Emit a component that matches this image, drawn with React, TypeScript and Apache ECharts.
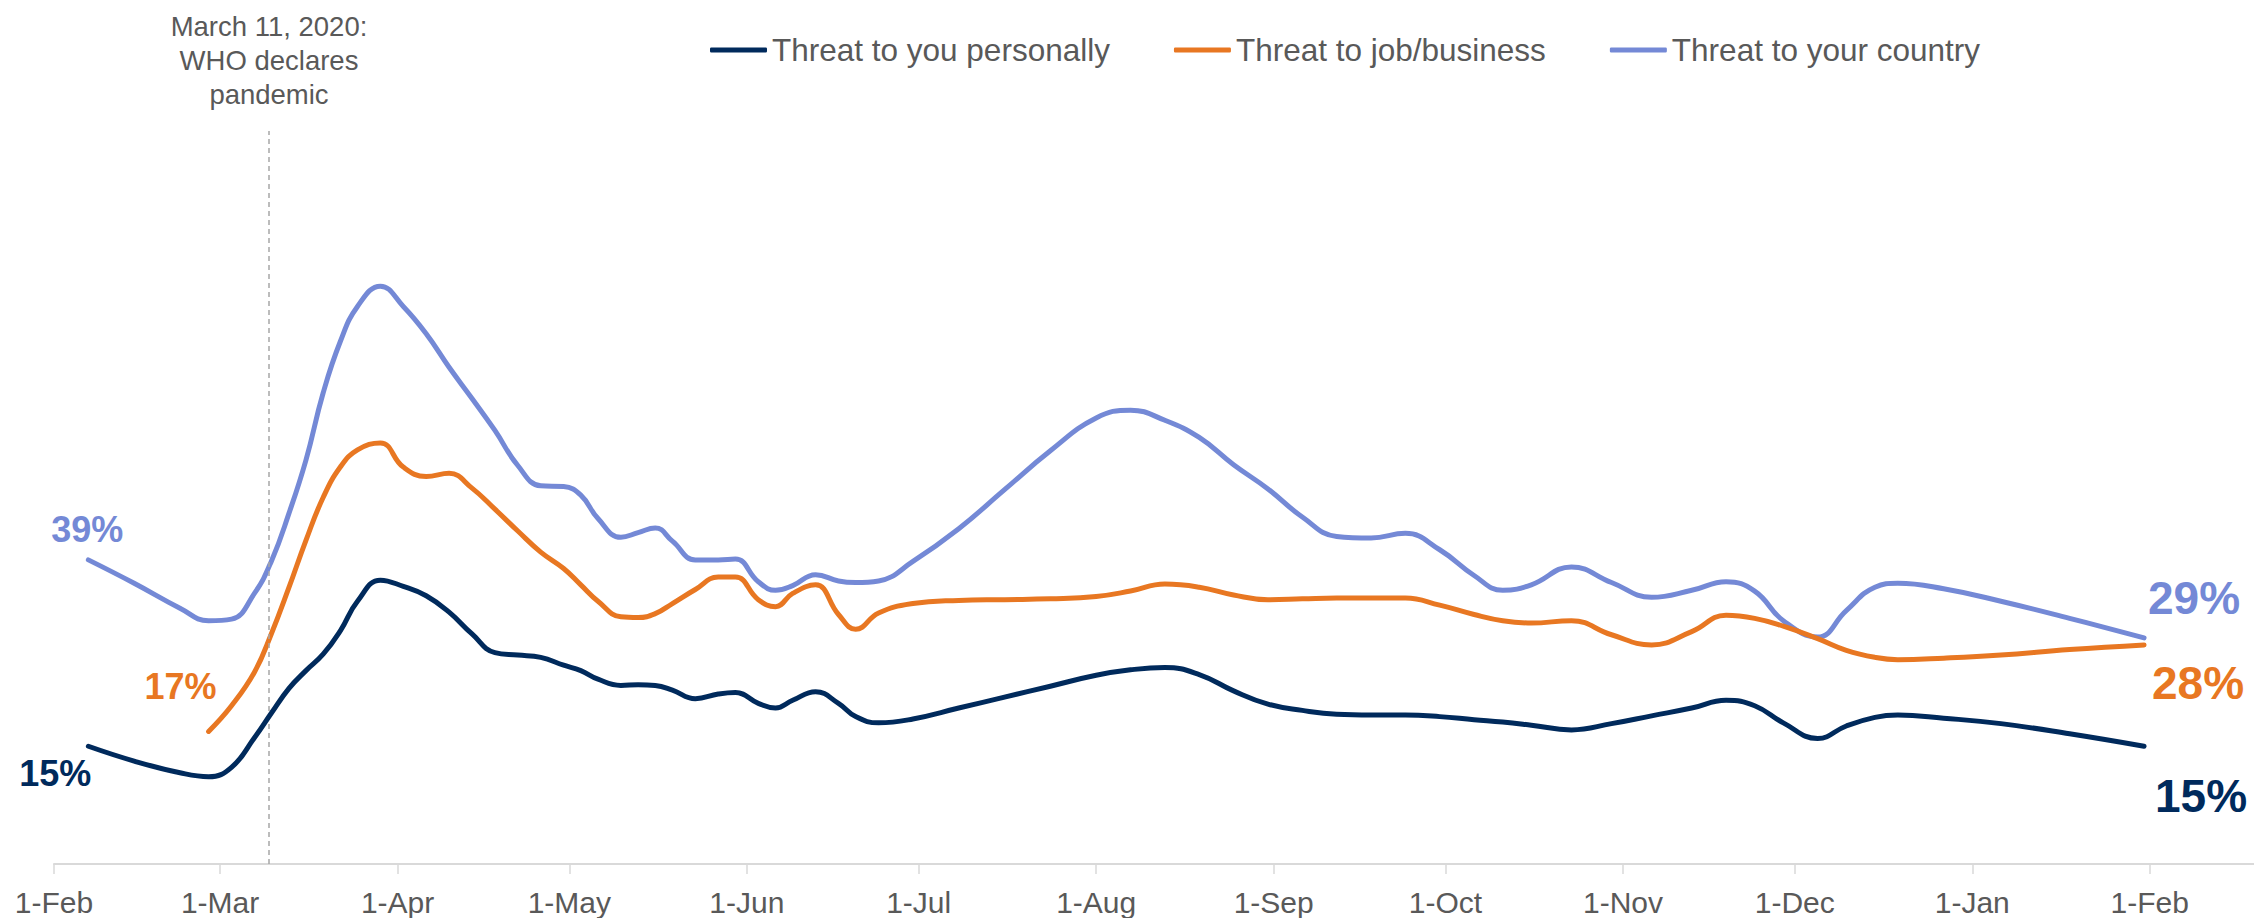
import React, { useEffect, useRef } from "react";
import * as echarts from "echarts";

// ---------- data ----------
const dates = [
  "2020-02-07", "2020-02-15", "2020-02-23", "2020-02-28",
  "2020-03-03", "2020-03-07", "2020-03-10", "2020-03-13", "2020-03-16", "2020-03-19", "2020-03-22", "2020-03-25", "2020-03-29",
  "2020-04-02", "2020-04-06", "2020-04-10", "2020-04-14", "2020-04-18", "2020-04-22", "2020-04-26", "2020-04-30",
  "2020-05-03", "2020-05-06", "2020-05-10", "2020-05-13", "2020-05-16", "2020-05-19", "2020-05-23", "2020-05-27", "2020-05-30",
  "2020-06-03", "2020-06-06", "2020-06-09", "2020-06-13", "2020-06-17", "2020-06-20", "2020-06-24", "2020-06-30",
  "2020-07-08", "2020-07-16", "2020-07-24",
  "2020-08-01", "2020-08-07", "2020-08-13", "2020-08-19", "2020-08-25", "2020-08-31",
  "2020-09-06", "2020-09-12", "2020-09-18", "2020-09-24", "2020-09-30",
  "2020-10-06", "2020-10-11", "2020-10-16", "2020-10-23", "2020-10-30",
  "2020-11-06", "2020-11-13", "2020-11-19", "2020-11-24", "2020-11-29",
  "2020-12-05", "2020-12-10", "2020-12-15", "2020-12-19", "2020-12-27",
  "2021-01-06", "2021-01-18", "2021-01-31",
];

const personal = [
  15.1, 13.2, 11.7, 11.2,
  12.4, 16.2, 19.4, 22.5, 24.8, 26.9, 29.9, 33.7, 36.4,
  35.6, 34.4, 32.3, 29.5, 27.1, 26.8, 26.5, 25.5,
  24.8, 23.7, 22.9, 23.0, 22.9, 22.3, 21.2, 21.8, 22.0,
  20.6, 20.0, 21.0, 22.1, 20.6, 18.9, 18.1, 18.6,
  20.0, 21.4, 22.8,
  24.2, 24.9, 25.2, 24.3, 22.2, 20.5,
  19.7, 19.2, 19.1, 19.1, 18.9,
  18.5, 18.2, 17.8, 17.2, 18.0,
  19.0, 20.0, 21.0, 20.3, 18.1,
  16.1, 17.7, 18.8, 19.1, 18.7,
  18.0, 16.7, 15.1,
];

const job: (number | null)[] = [
  null, null, null, 17.0,
  20.3, 24.6, 29.6, 35.4, 41.5, 47.0, 50.9, 53.1, 54.0,
  50.9, 49.7, 50.1, 48.2, 45.5, 42.7, 40.0, 37.9,
  35.8, 33.7, 31.7, 31.6, 32.1, 33.4, 35.2, 36.8, 36.8,
  33.9, 33.0, 34.7, 35.8, 32.0, 30.1, 32.2, 33.4,
  33.8, 33.9, 34.0,
  34.3, 35.0, 35.9, 35.5, 34.5, 33.9,
  34.0, 34.1, 34.1, 34.1, 33.2,
  32.0, 31.2, 30.9, 31.2, 29.4,
  28.1, 29.8, 31.9, 31.5, 30.5,
  28.9, 27.4, 26.5, 26.2, 26.4,
  26.8, 27.5, 28.1,
];

const country = [
  39.0, 36.0, 32.8, 31.2,
  31.4, 34.7, 38.9, 44.9, 51.8, 60.4, 67.0, 71.5, 74.1,
  71.5, 68.0, 63.7, 59.7, 55.6, 51.1, 48.5, 48.4,
  47.3, 44.3, 41.9, 42.5, 43.1, 41.4, 39.0, 39.0, 39.1,
  36.2, 35.1, 35.7, 37.1, 36.3, 36.1, 36.3, 38.8,
  43.0, 48.0, 53.0,
  57.2, 58.2, 56.9, 54.7, 51.2, 48.1,
  44.5, 42.0, 41.8, 42.4, 40.3,
  37.0, 35.1, 35.8, 38.1, 36.1,
  34.2, 35.1, 36.2, 35.0, 31.2,
  29.1, 32.5, 35.5, 36.0, 35.3,
  33.7, 31.5, 29.0,
];

const seriesNames = ["Threat to you personally", "Threat to job/business", "Threat to your country"];
const monthLabels = ["Jan", "Feb", "Mar", "Apr", "May", "Jun", "Jul", "Aug", "Sep", "Oct", "Nov", "Dec"];
const annotationDate = "2020-03-09T12:00:00";
const annotationText = "March 11, 2020:\nWHO declares\npandemic";

// ---------- styles ----------
const FONT = "'Liberation Sans', Arial, Helvetica, sans-serif";
const C_PERSONAL = "#002a5c";
const C_JOB = "#e87722";
const C_COUNTRY = "#7489d6";
const GREY_TEXT = "#595959";
const DAY = 86400000;

function buildData(values: (number | null)[], first: any, last: any) {
  const items: any[] = [];
  const firstIdx = values.findIndex((v) => v !== null);
  const lastIdx = values.length - 1;
  values.forEach((v, i) => {
    if (v === null) return;
    const item: any = { value: [dates[i], v] };
    if (i === firstIdx) item.label = { show: true, ...first };
    if (i === lastIdx) item.label = { show: true, ...last };
    items.push(item);
  });
  return items;
}

function endLabel(color: string, size: number, offset: number[]) {
  return {
    position: "inside",
    offset,
    color,
    fontSize: size,
    fontWeight: "bold",
    fontFamily: FONT,
    formatter: (p: any) => `${Math.round(p.value[1])}%`,
  };
}

export default function App() {
  const ref = useRef<HTMLDivElement>(null);

  useEffect(() => {
    if (!ref.current) return;
    const chart = echarts.init(ref.current, undefined, { renderer: "svg" });
    const xMin = new Date(2020, 1, 1).getTime();
    const xMax = xMin + 384.2 * DAY;

    const mkSeries = (name: string, color: string, data: any[], z: number, extra: any = {}) => ({
      name,
      type: "line",
      data,
      smooth: 0.45,
      symbol: "circle",
      symbolSize: 1,
      showSymbol: true,
      z,
      itemStyle: { color },
      lineStyle: { color, width: 5, cap: "round", join: "round" },
      emphasis: { disabled: true },
      ...extra,
    });

    chart.setOption({
      animation: false,
      backgroundColor: "#ffffff",
      textStyle: { fontFamily: FONT },
      grid: { left: 54, right: 0, top: 131, bottom: 54, containLabel: false },
      legend: {
        left: 705,
        top: 29,
        icon: "roundRect",
        itemWidth: 57,
        itemHeight: 5,
        itemGap: 64,
        data: seriesNames,
        textStyle: { fontSize: 31.5, color: GREY_TEXT, fontFamily: FONT },
      },
      xAxis: {
        type: "time",
        min: xMin,
        max: xMax,
        minInterval: 28 * DAY,
        maxInterval: 31 * DAY,
        axisLine: { show: true, lineStyle: { color: "#d9d9d9", width: 2 } },
        axisTick: { show: true, length: 10, lineStyle: { color: "#d9d9d9", width: 1.5 } },
        splitLine: { show: false },
        axisLabel: {
          fontSize: 30,
          color: GREY_TEXT,
          fontFamily: FONT,
          margin: 23,
          formatter: (v: number) => {
            const d = new Date(v);
            return d.getDate() === 1 ? `1-${monthLabels[d.getMonth()]}` : "";
          },
        },
      },
      yAxis: {
        type: "value",
        min: 0,
        max: 94,
        show: false,
        splitLine: { show: false },
      },
      graphic: [
        {
          type: "text",
          x: 269,
          y: 9,
          silent: true,
          style: {
            text: annotationText,
            fontSize: 27.5,
            lineHeight: 34,
            fontFamily: FONT,
            fill: GREY_TEXT,
            align: "center",
            verticalAlign: "top",
          },
        },
      ],
      series: [
        mkSeries(
          seriesNames[2],
          C_COUNTRY,
          buildData(country, endLabel(C_COUNTRY, 36, [-1, -30]), endLabel(C_COUNTRY, 46, [50, -40])),
          3,
          {
            markLine: {
              silent: true,
              symbol: ["none", "none"],
              label: { show: false },
              lineStyle: { color: "#a6a6a6", type: [5, 4], width: 1.5 },
              data: [{ xAxis: new Date(annotationDate).getTime() }],
            },
          }
        ),
        mkSeries(
          seriesNames[1],
          C_JOB,
          buildData(job, endLabel(C_JOB, 36, [-28, -45]), endLabel(C_JOB, 46, [54, 38])),
          4
        ),
        mkSeries(
          seriesNames[0],
          C_PERSONAL,
          buildData(personal, endLabel(C_PERSONAL, 36, [-33, 27]), endLabel(C_PERSONAL, 46, [57, 50])),
          5
        ),
      ],
    });

    return () => chart.dispose();
  }, []);

  return (
    <div
      ref={ref}
      style={{ position: "fixed", left: 0, top: 0, width: 2254, height: 918, background: "#fff" }}
    />
  );
}
